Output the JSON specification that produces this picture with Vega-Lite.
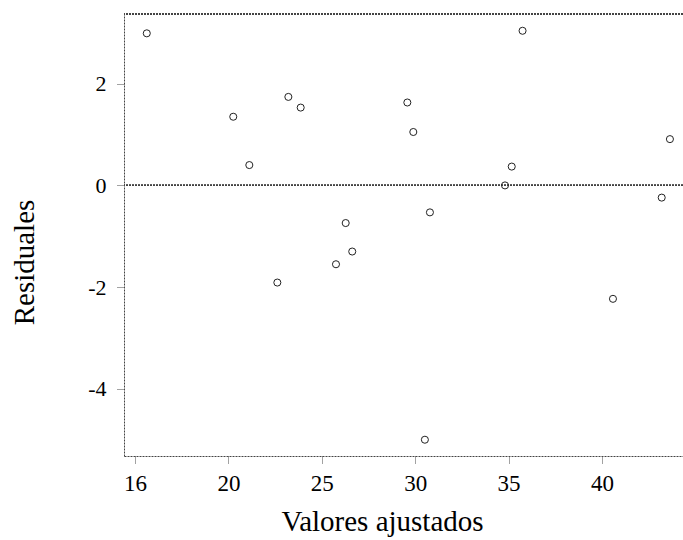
{
  "$schema": "https://vega.github.io/schema/vega-lite/v6.json",
  "width": 559,
  "height": 442,
  "autosize": {"type": "none"},
  "padding": {"left": 124, "top": 14, "right": 0, "bottom": 84},
  "background": "white",
  "config": {"view": {"stroke": null}, "font": "Liberation Serif"},
  "data": {
    "values": [
      {"fitted": 15.63, "resid": 2.99},
      {"fitted": 20.26, "resid": 1.35},
      {"fitted": 21.12, "resid": 0.40},
      {"fitted": 23.21, "resid": 1.74},
      {"fitted": 23.87, "resid": 1.53},
      {"fitted": 35.75, "resid": 3.04},
      {"fitted": 29.58, "resid": 1.63},
      {"fitted": 29.90, "resid": 1.05},
      {"fitted": 43.64, "resid": 0.91},
      {"fitted": 35.17, "resid": 0.37},
      {"fitted": 34.81, "resid": 0.00},
      {"fitted": 43.20, "resid": -0.24},
      {"fitted": 40.59, "resid": -2.23},
      {"fitted": 26.28, "resid": -0.74},
      {"fitted": 26.63, "resid": -1.30},
      {"fitted": 25.76, "resid": -1.55},
      {"fitted": 22.62, "resid": -1.91},
      {"fitted": 30.79, "resid": -0.53},
      {"fitted": 30.52, "resid": -5.00}
    ]
  },
  "layer": [
    {
      "mark": {"type": "rule", "stroke": "#444", "strokeDash": [2, 1], "strokeWidth": 1},
      "encoding": {"y": {"datum": 0, "type": "quantitative"}}
    },
    {
      "mark": {"type": "rule", "stroke": "#444", "strokeDash": [2, 1], "strokeWidth": 1},
      "encoding": {"y": {"datum": 3.37, "type": "quantitative"}}
    },
    {
      "mark": {"type": "point", "shape": "circle", "filled": false, "stroke": "#222", "size": 50, "strokeWidth": 1, "opacity": 1},
      "encoding": {
        "x": {
          "field": "fitted",
          "type": "quantitative",
          "scale": {"domain": [14.41, 44.34], "nice": false, "zero": false},
          "axis": {
            "values": [15, 20, 25, 30, 35, 40],
            "labelExpr": "datum.value == 15 ? '16' : datum.value + ''",
            "grid": false,
            "tickSize": 8,
            "tickColor": "#444",
            "tickDash": [1, 1],
            "domainColor": "#444",
            "domainDash": [2, 1],
            "labelFont": "Liberation Serif",
            "labelFontSize": 23,
            "labelColor": "black",
            "labelPadding": 8,
            "title": "Valores ajustados",
            "titleFont": "Liberation Serif",
            "titleFontSize": 29,
            "titleFontWeight": "normal",
            "titleColor": "black",
            "titleX": 258,
            "titleY": 74,
            "titleBaseline": "alphabetic"
          }
        },
        "y": {
          "field": "resid",
          "type": "quantitative",
          "scale": {"domain": [-5.32, 3.37], "nice": false, "zero": false},
          "axis": {
            "values": [2, 0, -2, -4],
            "labelExpr": "datum.value + ''",
            "grid": false,
            "tickSize": 8,
            "tickColor": "#444",
            "tickDash": [1, 1],
            "domainColor": "#444",
            "domainDash": [2, 1],
            "labelFont": "Liberation Serif",
            "labelFontSize": 22,
            "labelColor": "black",
            "labelPadding": 10,
            "title": "Residuales",
            "titleFont": "Liberation Serif",
            "titleFontSize": 29,
            "titleFontWeight": "normal",
            "titleColor": "black",
            "titleX": -91,
            "titleY": 248,
            "titleBaseline": "alphabetic"
          }
        }
      }
    }
  ]
}
